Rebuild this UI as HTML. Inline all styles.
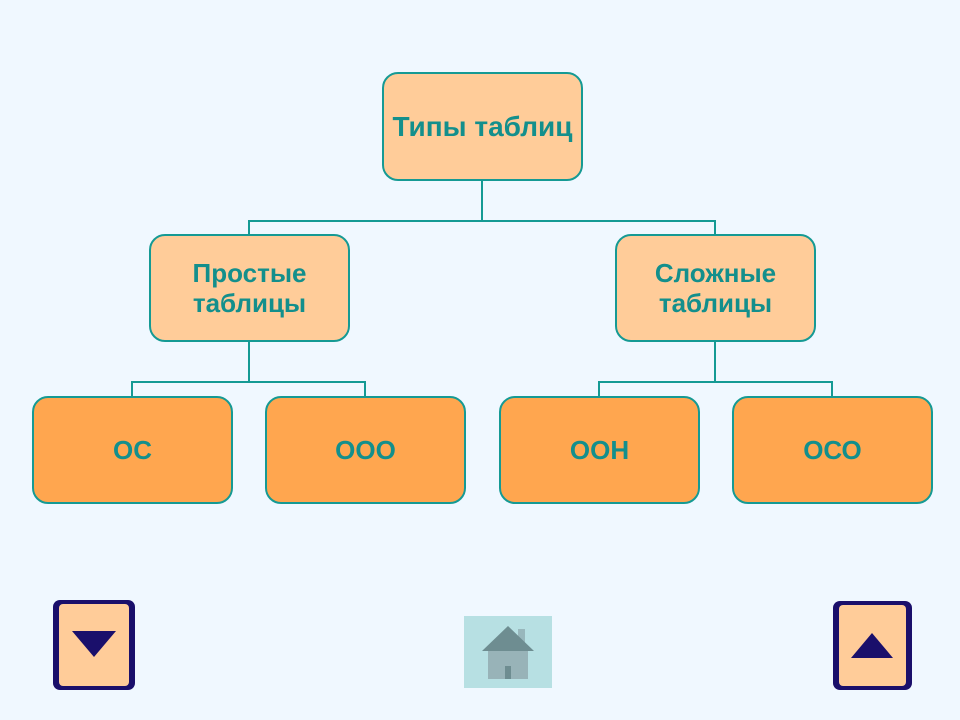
<html><head><style>
body{margin:0;width:960px;height:720px;background:#F0F8FF;position:relative;overflow:hidden;font-family:"Liberation Sans",sans-serif}
.b{position:absolute;box-sizing:border-box;border:2.5px solid #159A94;border-radius:16px;display:flex;align-items:center;justify-content:center;text-align:center;color:#138F8C;font-weight:bold;font-size:26px;line-height:30px}
.p{background:#FFCC99}.o{background:#FFA64F}
.l{position:absolute;background:#159A94}
</style></head><body>
<div class="l" style="left:481px;top:180px;width:2px;height:42px"></div>
<div class="l" style="left:248px;top:220px;width:468px;height:2px"></div>
<div class="l" style="left:248px;top:220px;width:2px;height:15px"></div>
<div class="l" style="left:714px;top:220px;width:2px;height:15px"></div>
<div class="l" style="left:248px;top:341px;width:2px;height:42px"></div>
<div class="l" style="left:131px;top:381px;width:235px;height:2px"></div>
<div class="l" style="left:131px;top:381px;width:2px;height:16px"></div>
<div class="l" style="left:364px;top:381px;width:2px;height:16px"></div>
<div class="l" style="left:714px;top:341px;width:2px;height:42px"></div>
<div class="l" style="left:598px;top:381px;width:235px;height:2px"></div>
<div class="l" style="left:598px;top:381px;width:2px;height:16px"></div>
<div class="l" style="left:831px;top:381px;width:2px;height:16px"></div>
<div class="b p" style="left:382px;top:72px;width:201px;height:109px;font-size:28px">Типы таблиц</div>
<div class="b p" style="left:149px;top:234px;width:201px;height:108px">Простые<br>таблицы</div>
<div class="b p" style="left:615px;top:234px;width:201px;height:108px">Сложные<br>таблицы</div>
<div class="b o" style="left:32px;top:396px;width:201px;height:108px">ОС</div>
<div class="b o" style="left:265px;top:396px;width:201px;height:108px">ООО</div>
<div class="b o" style="left:499px;top:396px;width:201px;height:108px">ООН</div>
<div class="b o" style="left:732px;top:396px;width:201px;height:108px">ОСО</div>
<svg style="position:absolute;left:0;top:0" width="960" height="720">
<rect x="53" y="600" width="82" height="90" rx="7" fill="#1A0F6B"/>
<rect x="59" y="604" width="70" height="82" rx="4" fill="#FFCC99"/>
<polygon points="72,631 116,631 94,657" fill="#1A0F6B"/>
<rect x="833" y="601" width="79" height="89" rx="7" fill="#1A0F6B"/>
<rect x="839" y="605" width="67" height="81" rx="4" fill="#FFCC99"/>
<polygon points="851,658 893,658 872,633" fill="#1A0F6B"/>
<rect x="464" y="616" width="88" height="72" fill="#B7E0E3"/>
<rect x="518" y="629" width="7" height="17" fill="#98B7BC"/>
<polygon points="482,651 508,626 534,651" fill="#6E8D91"/>
<rect x="488" y="651" width="40" height="28" fill="#98B3B8"/>
<rect x="505" y="666" width="6" height="13" fill="#6E8D91"/>
</svg>
</body></html>
